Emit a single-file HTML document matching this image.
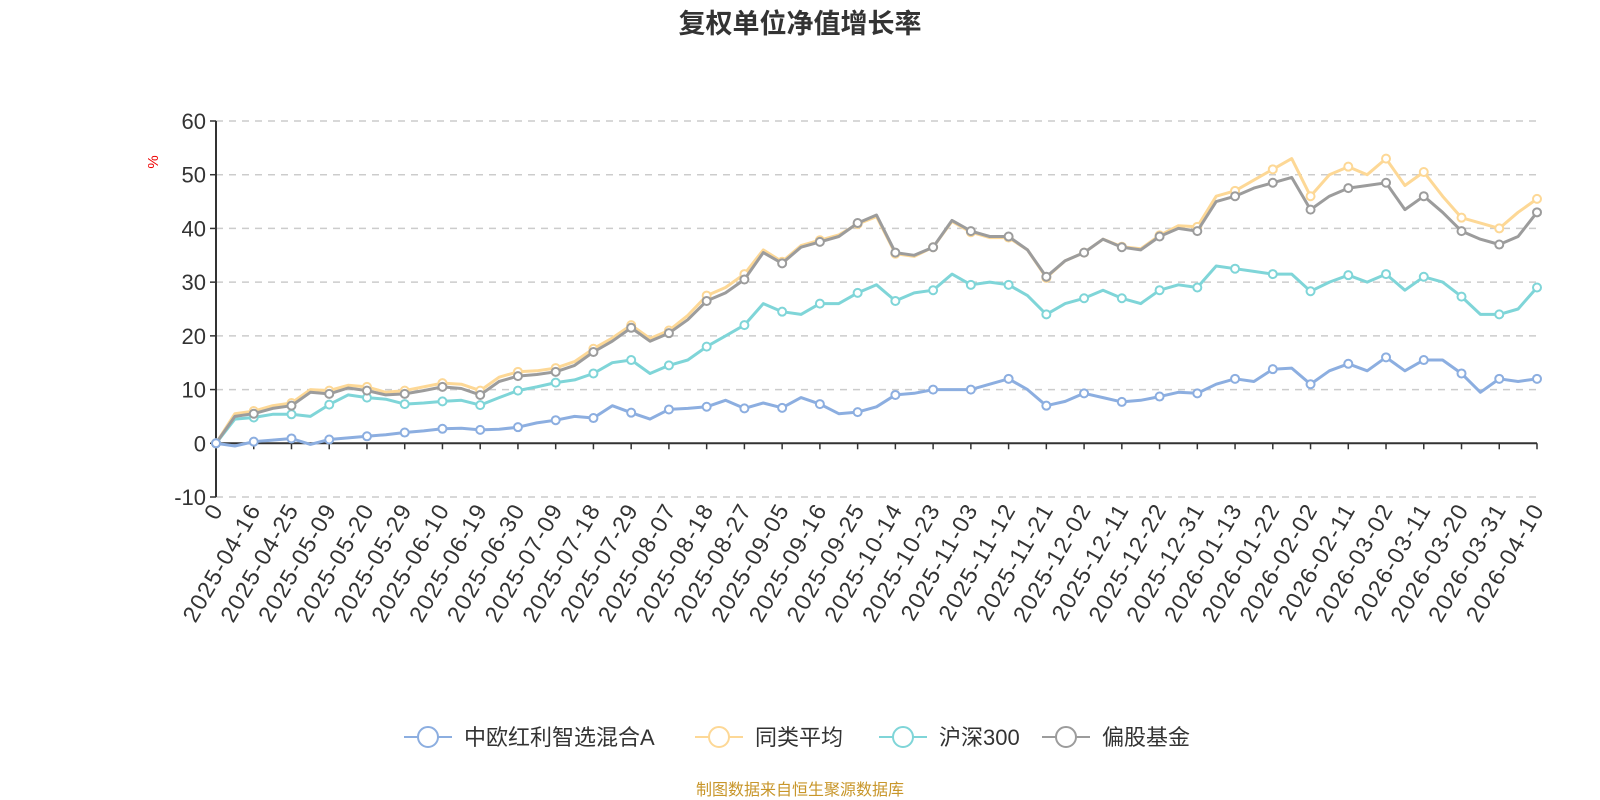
<!DOCTYPE html>
<html><head><meta charset="utf-8">
<style>
html,body{margin:0;padding:0;background:#fff;}
svg{display:block;font-family:"Liberation Sans","Noto Sans CJK SC",sans-serif;}
</style></head>
<body>
<svg id="chart" width="1600" height="800" viewBox="0 0 1600 800">
<text x="800" y="33" text-anchor="middle" font-size="27" font-weight="bold" fill="#333">复权单位净值增长率</text>
<text x="0" y="0" transform="translate(158,162) rotate(-90)" text-anchor="middle" font-size="15" fill="#e00">%</text>
<g id="grid"></g>
<g id="axes"></g>
<g id="series"></g>
<g id="legend"></g>
<text x="800" y="795" text-anchor="middle" font-size="16" fill="#c8962a">制图数据来自恒生聚源数据库</text>
</svg>
<script>
const xLabels = ["0","2025-04-16","2025-04-25","2025-05-09","2025-05-20","2025-05-29","2025-06-10","2025-06-19","2025-06-30","2025-07-09","2025-07-18","2025-07-29","2025-08-07","2025-08-18","2025-08-27","2025-09-05","2025-09-16","2025-09-25","2025-10-14","2025-10-23","2025-11-03","2025-11-12","2025-11-21","2025-12-02","2025-12-11","2025-12-22","2025-12-31","2026-01-13","2026-01-22","2026-02-02","2026-02-11","2026-03-02","2026-03-11","2026-03-20","2026-03-31","2026-04-10"];
const yTicks = [-10,0,10,20,30,40,50,60];
const seriesNames = ["中欧红利智选混合A","同类平均","沪深300","偏股基金"];
const fundA = [0,-0.5,0.3,0.6,0.9,-0.2,0.7,1,1.3,1.6,2,2.3,2.7,2.8,2.5,2.6,3,3.8,4.3,5,4.7,7,5.7,4.5,6.3,6.5,6.8,8,6.5,7.5,6.6,8.5,7.3,5.5,5.8,6.8,9,9.3,10,10,10,11,12,10,7,7.8,9.3,8.5,7.7,8,8.7,9.5,9.3,11,12,11.5,13.8,14,11,13.5,14.8,13.5,16,13.5,15.5,15.5,13,9.5,12,11.5,12];
const peerAvg = [0,5.5,6,7,7.5,10,9.8,10.8,10.5,9.5,9.8,10.5,11.2,11,9.8,12.3,13.3,13.5,14,15.2,17.6,19.6,22,19.5,21,23.8,27.5,29,31.5,36,33.8,36.8,37.8,38.8,40.8,42.2,35.3,34.8,36.5,41.3,39.3,38.3,38.3,36,30.8,34,35.5,38,36.6,36.2,38.7,40.5,40.3,46,47,49,51,53,46,50,51.5,50,53,48,50.5,46,42,41,40,43,45.5];
const hs300 = [0,4.5,4.8,5.4,5.4,5,7.2,9,8.5,8.2,7.3,7.5,7.8,8,7.1,8.5,9.8,10.5,11.3,11.8,13,15,15.5,13,14.5,15.5,18,20,22,26,24.5,24,26,26,28,29.5,26.5,28,28.5,31.5,29.5,30,29.5,27.5,24,26,27,28.5,27,26,28.5,29.5,29,33,32.5,32,31.5,31.5,28.3,30,31.3,30,31.5,28.5,31,30,27.3,24,24,25,29];
const equityFund = [0,5,5.5,6.5,7,9.5,9.2,10.3,9.8,9,9.2,9.8,10.5,10.2,9,11.5,12.5,12.8,13.3,14.5,17,19,21.5,19,20.5,23,26.5,28,30.5,35.5,33.5,36.5,37.5,38.5,41,42.5,35.5,35,36.5,41.5,39.5,38.5,38.5,36,31,34,35.5,38,36.5,36,38.5,40,39.5,45,46,47.5,48.5,49.5,43.5,46,47.5,48,48.5,43.5,46,43,39.5,38,37,38.5,43];

const colors = ["#8caee0","#fdd896","#7fd5d8","#9c9c9c"];
const allData = [fundA, peerAvg, hs300, equityFund];
const NS = "http://www.w3.org/2000/svg";
const L = 216, R = 1537, T = 121, B = 497, yMin = -10, yMax = 60;
function yScale(v){ return B - (v - yMin) / (yMax - yMin) * (B - T); }
function xTick(i){ return L + i * (R - L) / (xLabels.length - 1); }
function xPoint(j, n){ return L + j * (R - L) / (n - 1); }
function mk(tag, attrs, parent){ const e = document.createElementNS(NS, tag); for (const k in attrs) e.setAttribute(k, attrs[k]); parent.appendChild(e); return e; }

const grid = document.getElementById('grid');
const axes = document.getElementById('axes');
yTicks.forEach(v => {
  const y = yScale(v);
  const g = mk('line', {x1: L, x2: R, y1: y, y2: y, stroke: '#ccc', 'stroke-width': 1.5, 'stroke-dasharray': '7,6'}, grid);
  
  
  const tk = mk('line', {x1: L - 6, x2: L, y1: y, y2: y, stroke: '#333', 'stroke-width': 1.5}, axes);
  
  
  const t = mk('text', {x: L - 10, y: y + 8, 'text-anchor': 'end', 'font-size': 22, fill: '#333'}, axes);
  t.textContent = v;
  
  
});
const yAxis = mk('line', {x1: L, x2: L, y1: T, y2: B, stroke: '#333', 'stroke-width': 2}, axes);


const y0 = yScale(0);
const xAxis = mk('line', {x1: L, x2: R, y1: y0, y2: y0, stroke: '#333', 'stroke-width': 2}, axes);


xLabels.forEach((lab, i) => {
  const x = xTick(i);
  const tk = mk('line', {x1: x, x2: x, y1: y0, y2: y0 + 6, stroke: '#333', 'stroke-width': 1.5}, axes);
  
  
  const t = mk('text', {x: 0, y: 0, transform: `translate(${x + 8},${B + 12}) rotate(-60)`, 'text-anchor': 'end', 'font-size': 23, 'letter-spacing': '1.5', fill: '#333'}, axes);
  t.textContent = lab;
  
  
});

const series = document.getElementById('series');
const order = [2, 1, 3, 0];
order.forEach(si => {
  const d = allData[si];
  const g = mk('g', {}, series);
  
  
  const pts = d.map((v, j) => xPoint(j, d.length).toFixed(1) + ',' + yScale(v).toFixed(1)).join(' ');
  const pl = mk('polyline', {points: pts, fill: 'none', stroke: colors[si], 'stroke-width': 3, 'stroke-linejoin': 'round'}, g);
  
  
  d.forEach((v, j) => {
    if (j % 2 !== 0) return;
    const c = mk('circle', {cx: xPoint(j, d.length), cy: yScale(v), r: 4, fill: '#fff', stroke: colors[si], 'stroke-width': 2}, g);
    
    
  });
});

const legend = document.getElementById('legend');
const legendX = [428, 719, 903, 1066];
seriesNames.forEach((n, i) => {
  const g = mk('g', {}, legend);
  
  
  const cx = legendX[i], cy = 737;
  mk('line', {x1: cx - 24, x2: cx + 24, y1: cy, y2: cy, stroke: colors[i], 'stroke-width': 2}, g);
  mk('circle', {cx: cx, cy: cy, r: 10, fill: '#fff', stroke: colors[i], 'stroke-width': 2}, g);
  const t = mk('text', {x: cx + 36, y: cy + 8, 'font-size': 22, fill: '#333'}, g);
  t.textContent = n;
});
</script>
</body></html>
